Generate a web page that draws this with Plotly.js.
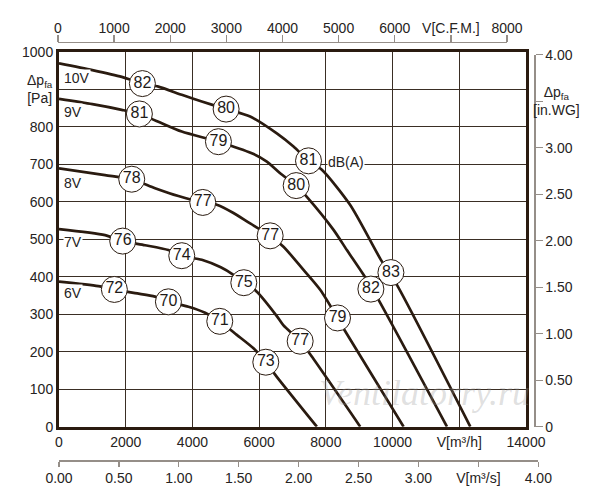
<!DOCTYPE html>
<html>
<head>
<meta charset="utf-8">
<script src="https://cdn.plot.ly/plotly-3.0.1.min.js"></script>
<style>
  body { margin: 0; background: #fff; }
  #chart { width: 600px; height: 500px; }
</style>
</head>
<body>
<div id="chart"></div>
<script>
// fan curves, flow in m3/h, pressure in Pa
var flow10V = [0, 1000, 1880, 2500, 2980, 3680, 4280, 5010, 5730, 6530, 7030, 7480, 7880, 8730, 9650, 10130, 12330];
var pres10V = [969, 951, 933, 915, 907, 885, 867, 847, 827, 782, 747, 709, 685, 591, 445, 378, 0];

var flow9V = [0, 1000, 1880, 2410, 2980, 3680, 4780, 5780, 6230, 6630, 7110, 7430, 8230, 8630, 9130, 9580, 11630];
var pres9V = [874, 860, 845, 834, 813, 787, 760, 729, 707, 676, 643, 613, 525, 471, 405, 338, 0];

var flow8V = [0, 1380, 2180, 2880, 3580, 4310, 4730, 5230, 5730, 6330, 6730, 7330, 7830, 8350, 8530, 10330];
var pres8V = [689, 671, 660, 636, 615, 598, 592, 570, 542, 509, 480, 418, 365, 290, 262, 0];

var flow7V = [0, 1380, 1910, 2580, 3280, 3680, 4280, 4850, 5230, 5540, 5930, 6530, 6730, 7230, 7530, 9030];
var pres7V = [527, 511, 495, 484, 471, 456, 445, 425, 405, 384, 360, 295, 270, 228, 193, 0];

var flow6V = [0, 1180, 1660, 2280, 2880, 3280, 3880, 4380, 4820, 5330, 5830, 6200, 6530, 7730];
var pres6V = [387, 375, 366, 356, 347, 333, 320, 304, 281, 245, 209, 172, 133, 0];

// sound level circles (dB(A)) sitting on the curves
var dbFlow = [2500, 5010, 7480, 9950,  2410, 4780, 7110, 9350,  2180, 4310, 6330, 8350,  1910, 3680, 5540, 7230,  1660, 3280, 4820, 6200];
var dbPres = [915, 847, 709, 411,  834, 760, 643, 367,  660, 598, 509, 290,  495, 456, 384, 228,  366, 333, 281, 172];
var dbText = ['82', '80', '81', '83',  '81', '79', '80', '82',  '78', '77', '77', '79',  '76', '74', '75', '77',  '72', '70', '71', '73'];

// voltage labels
var voltText = ['10V', '9V', '8V', '7V', '6V'];
var voltPres = [929, 838, 651, 493, 356];

// tick labels
var flowTicks = [0, 2000, 4000, 6000, 8000, 10000, 12000, 14000];
var flowLabels = ['0', '2000', '4000', '6000', '8000', '10000', 'V[m³/h]', '14000'];
var presTicks = [0, 100, 200, 300, 400, 500, 600, 700, 800, 900, 1000];
var presLabels = ['0', '100', '200', '300', '400', '500', '600', '700', '800', '', '1000'];
var cfmTicks = [0, 1000, 2000, 3000, 4000, 5000, 6000, 7000, 8000];
var cfmLabels = ['0', '1000', '2000', '3000', '4000', '5000', '6000', 'V[C.F.M.]', '8000'];
var wgTicks = [0, 0.5, 1, 1.5, 2, 2.5, 3, 3.5, 4];
var wgLabels = ['0', '0.50', '1.00', '1.50', '2.00', '2.50', '3.00', '', '4.00'];
var m3sTicks = [0, 0.5, 1, 1.5, 2, 2.5, 3, 3.5, 4];
var m3sLabels = ['0.00', '0.50', '1.00', '1.50', '2.00', '2.50', '3.00', 'V[m³/s]', '4.00'];

var ink = '#2a1b10';
var grey = '#958e88';
var txt = '#262322';

var curves = [[flow10V, pres10V], [flow9V, pres9V], [flow8V, pres8V], [flow7V, pres7V], [flow6V, pres6V]];
var data = curves.map(function (c) {
    return {
        x: c[0], y: c[1], type: 'scatter', mode: 'lines',
        line: {color: ink, width: 2.7, shape: 'spline', smoothing: 0.7},
        hoverinfo: 'skip'
    };
});

data.push({
    x: dbFlow, y: dbPres, text: dbText, type: 'scatter', mode: 'markers+text',
    marker: {size: 26, color: '#fff', line: {color: ink, width: 1}},
    textposition: 'middle center',
    textfont: {size: 16, color: '#1e1a18'},
    hoverinfo: 'skip'
});

// empty traces so the extra scales get their own (gridless) subplots
data.push({x: [], y: [], xaxis: 'x2', yaxis: 'y3', type: 'scatter'});
data.push({x: [], y: [], xaxis: 'x3', yaxis: 'y3', type: 'scatter'});
data.push({x: [], y: [], xaxis: 'x4', yaxis: 'y2', type: 'scatter'});

var annotations = voltText.map(function (t, i) {
    return {
        x: 130, y: voltPres[i], xref: 'x', yref: 'y', text: t, showarrow: false,
        xanchor: 'left', yanchor: 'middle', bgcolor: '#fff', borderpad: 0,
        font: {size: 14, color: txt}
    };
});

annotations.push({
    x: 8030, y: 707, xref: 'x', yref: 'y', text: 'dB(A)', showarrow: false,
    xanchor: 'left', yanchor: 'middle', bgcolor: '#fff', borderpad: 0,
    font: {size: 14, color: txt}
});
annotations.push({
    x: 40 / 600, y: 900, xref: 'paper', yref: 'y', text: 'Δp<sub>fa</sub><br>[Pa]',
    showarrow: false, xanchor: 'center', yanchor: 'middle', align: 'center',
    font: {size: 14, color: txt}
});
annotations.push({
    x: 556 / 600, y: 3.5, xref: 'paper', yref: 'y2', text: 'Δp<sub>fa</sub><br>[in.WG]',
    showarrow: false, xanchor: 'center', yanchor: 'middle', align: 'center',
    font: {size: 14, color: txt}
});
// watermark
annotations.push({
    x: 10950, y: 90, xref: 'x', yref: 'y', text: 'Ventilatorry.ru', showarrow: false,
    font: {family: 'Liberation Serif', size: 36, style: 'italic', color: 'rgba(150,150,150,0.3)'}
});

var hidden = {visible: false, showgrid: false, zeroline: false, fixedrange: true};

var layout = {
    width: 600, height: 500,
    margin: {l: 0, r: 0, t: 0, b: 0},
    paper_bgcolor: '#fff', plot_bgcolor: 'rgba(0,0,0,0)',
    showlegend: false,
    font: {family: 'Liberation Sans, Arial, sans-serif', size: 14, color: txt},
    xaxis: {
        domain: [59 / 600, 526 / 600], range: [0, 14000], autorange: false,
        tickmode: 'array', tickvals: flowTicks, ticktext: flowLabels,
        ticks: '', showgrid: true, gridcolor: '#3a2e24', gridwidth: 1,
        showline: true, mirror: true, linecolor: ink, linewidth: 3,
        zeroline: false, anchor: 'y', fixedrange: true
    },
    yaxis: {
        domain: [73.3 / 500, 448.3 / 500], range: [0, 1000], autorange: false,
        tickmode: 'array', tickvals: presTicks, ticktext: presLabels,
        ticks: '', showgrid: true, gridcolor: '#3a2e24', gridwidth: 1,
        showline: true, mirror: true, linecolor: ink, linewidth: 3,
        zeroline: false, anchor: 'x', fixedrange: true
    },
    // C.F.M. scale on top
    xaxis2: {
        domain: [58 / 600, 507 / 600], range: [0, 8000], autorange: false,
        anchor: 'free', position: (500 - 41.7) / 500, side: 'top',
        tickmode: 'array', tickvals: cfmTicks, ticktext: cfmLabels,
        ticks: 'outside', ticklen: 7, tickcolor: grey, tickwidth: 1.3,
        ticklabelstandoff: -4,
        showline: true, linecolor: grey, linewidth: 1.5,
        showgrid: false, zeroline: false, fixedrange: true
    },
    // m3/s scale under the chart
    xaxis3: {
        domain: [59 / 600, 538.3 / 600], range: [0, 4], autorange: false,
        anchor: 'free', position: 40 / 500, side: 'bottom',
        tickmode: 'array', tickvals: m3sTicks, ticktext: m3sLabels,
        ticks: 'outside', ticklen: 5, tickcolor: grey, tickwidth: 1.3,
        showline: true, linecolor: grey, linewidth: 1.5,
        showgrid: false, zeroline: false, fixedrange: true
    },
    xaxis4: Object.assign({domain: [59 / 600, 526 / 600], range: [0, 1], anchor: 'y2'}, hidden),
    // in.WG scale on the right
    yaxis2: {
        domain: [73.3 / 500, 445.3 / 500], range: [0, 4], autorange: false,
        anchor: 'free', position: 534 / 600, side: 'right',
        tickmode: 'array', tickvals: wgTicks, ticktext: wgLabels,
        ticks: 'outside', ticklen: 7, tickcolor: grey, tickwidth: 1.3,
        showline: true, linecolor: grey, linewidth: 1.5,
        showgrid: false, zeroline: false, fixedrange: true
    },
    yaxis3: Object.assign({domain: [73.3 / 500, 448.3 / 500], range: [0, 1], anchor: 'free', position: 0}, hidden),
    annotations: annotations
};

Plotly.newPlot('chart', data, layout, {staticPlot: true, displayModeBar: false});
</script>
</body>
</html>
